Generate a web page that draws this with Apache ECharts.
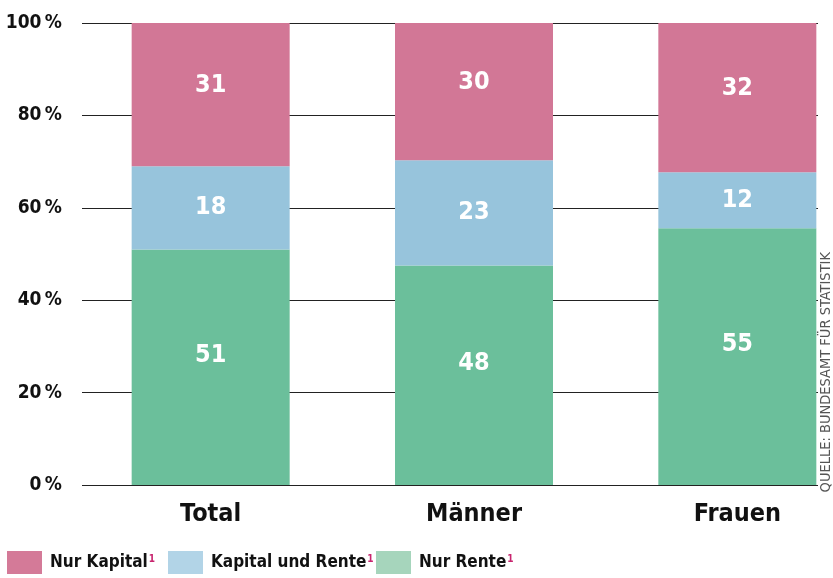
<!DOCTYPE html>
<html>
<head>
<meta charset="utf-8">
<script src="https://cdn.jsdelivr.net/npm/echarts@6/dist/echarts.min.js"></script>
<style>
  html, body { margin: 0; padding: 0; background: #fff; }
  #chart { width: 833px; height: 578px; }
</style>
</head>
<body>
<div id="chart"></div>
<script>
const categories = ['Total', 'Männer', 'Frauen']
const nurRente = [51, 48, 55]
const kapitalUndRente = [18, 23, 12]
const nurKapital = [31, 30, 32]
const yTicks = [0, 20, 40, 60, 80, 100]
const source = 'QUELLE: BUNDESAMT FÜR STATISTIK'

const FONT = "'Liberation Sans Narrow', 'DejaVu Sans Condensed', sans-serif"

// the published bars are scaled so every column fills 100 %
const totals = categories.map((_, i) => nurRente[i] + kapitalUndRente[i] + nurKapital[i])
const share = arr => arr.map((v, i) => v / totals[i] * 100)

function makeSeries(name, raw, color, offsetY) {
  return {
    name: name,
    type: 'bar',
    stack: 'all',
    xAxisIndex: 0,
    yAxisIndex: 0,
    barWidth: 158,
    data: share(raw),
    itemStyle: { color: color },
    label: {
      show: true,
      position: 'inside',
      offset: [0, offsetY],
      color: '#fff',
      fontFamily: FONT,
      fontWeight: 'bold',
      fontSize: 25,
      formatter: p => raw[p.dataIndex]
    }
  }
}

function legendAt(left, name, color) {
  return {
    left: left,
    bottom: 4,
    padding: 0,
    itemWidth: 35,
    itemHeight: 23,
    icon: 'rect',
    selectedMode: false,
    data: [{ name: name, itemStyle: { color: color } }],
    formatter: n => n + '{s|1}',
    textStyle: {
      color: '#111',
      fontFamily: FONT,
      fontWeight: 'bold',
      fontSize: 17,
      padding: [0, 0, 0, 3],
      rich: {
        s: { color: '#c8246e', fontSize: 10, fontWeight: 'bold', fontFamily: FONT, verticalAlign: 'top', padding: [0, 0, 6, 1] }
      }
    }
  }
}

const chart = echarts.init(document.getElementById('chart'), null, { renderer: 'canvas' })

chart.setOption({
  backgroundColor: '#fff',
  animation: false,
  grid: [
    // the bar grid runs past the right edge; the last bar ends where the rules end
    { left: 79, width: 790, top: 23, bottom: 93, outerBoundsMode: 'none', containLabel: false },
    { left: 82, right: 15, top: 23, bottom: 93, outerBoundsMode: 'none', containLabel: false }
  ],
  xAxis: [
    {
      type: 'category',
      gridIndex: 0,
      data: categories,
      axisLine: { show: false },
      axisTick: { show: false },
      axisLabel: {
        color: '#111',
        fontFamily: FONT,
        fontWeight: 'bold',
        fontSize: 25,
        margin: 17
      }
    },
    { type: 'value', gridIndex: 1, show: false, min: 0, max: 1 }
  ],
  yAxis: [
    { type: 'value', gridIndex: 0, min: 0, max: 100, show: false },
    {
      type: 'value',
      gridIndex: 1,
      min: yTicks[0],
      max: yTicks[yTicks.length - 1],
      interval: 20,
      axisLine: { show: false },
      axisTick: { show: false },
      axisLabel: {
        color: '#111',
        fontFamily: FONT,
        fontWeight: 'bold',
        fontSize: 19,
        margin: 20,
        formatter: v => v + '\u2009%'
      },
      splitLine: { lineStyle: { color: '#222', width: 1 } }
    }
  ],
  legend: [
    legendAt(7, 'Nur Kapital', '#d47a98'),
    legendAt(168, 'Kapital und Rente', '#b2d4e7'),
    legendAt(376, 'Nur Rente', '#a6d5bc')
  ],
  graphic: [
    {
      type: 'text',
      left: 819,
      top: 252,
      rotation: Math.PI / 2,
      style: {
        text: source,
        fill: '#555',
        font: '14.5px ' + FONT
      }
    }
  ],
  series: [
    makeSeries('Nur Rente', nurRente, '#6bbf9b', -12),
    makeSeries('Kapital und Rente', kapitalUndRente, '#97c4dc', 0),
    makeSeries('Nur Kapital', nurKapital, '#d27796', -9)
  ]
})
</script>
</body>
</html>
